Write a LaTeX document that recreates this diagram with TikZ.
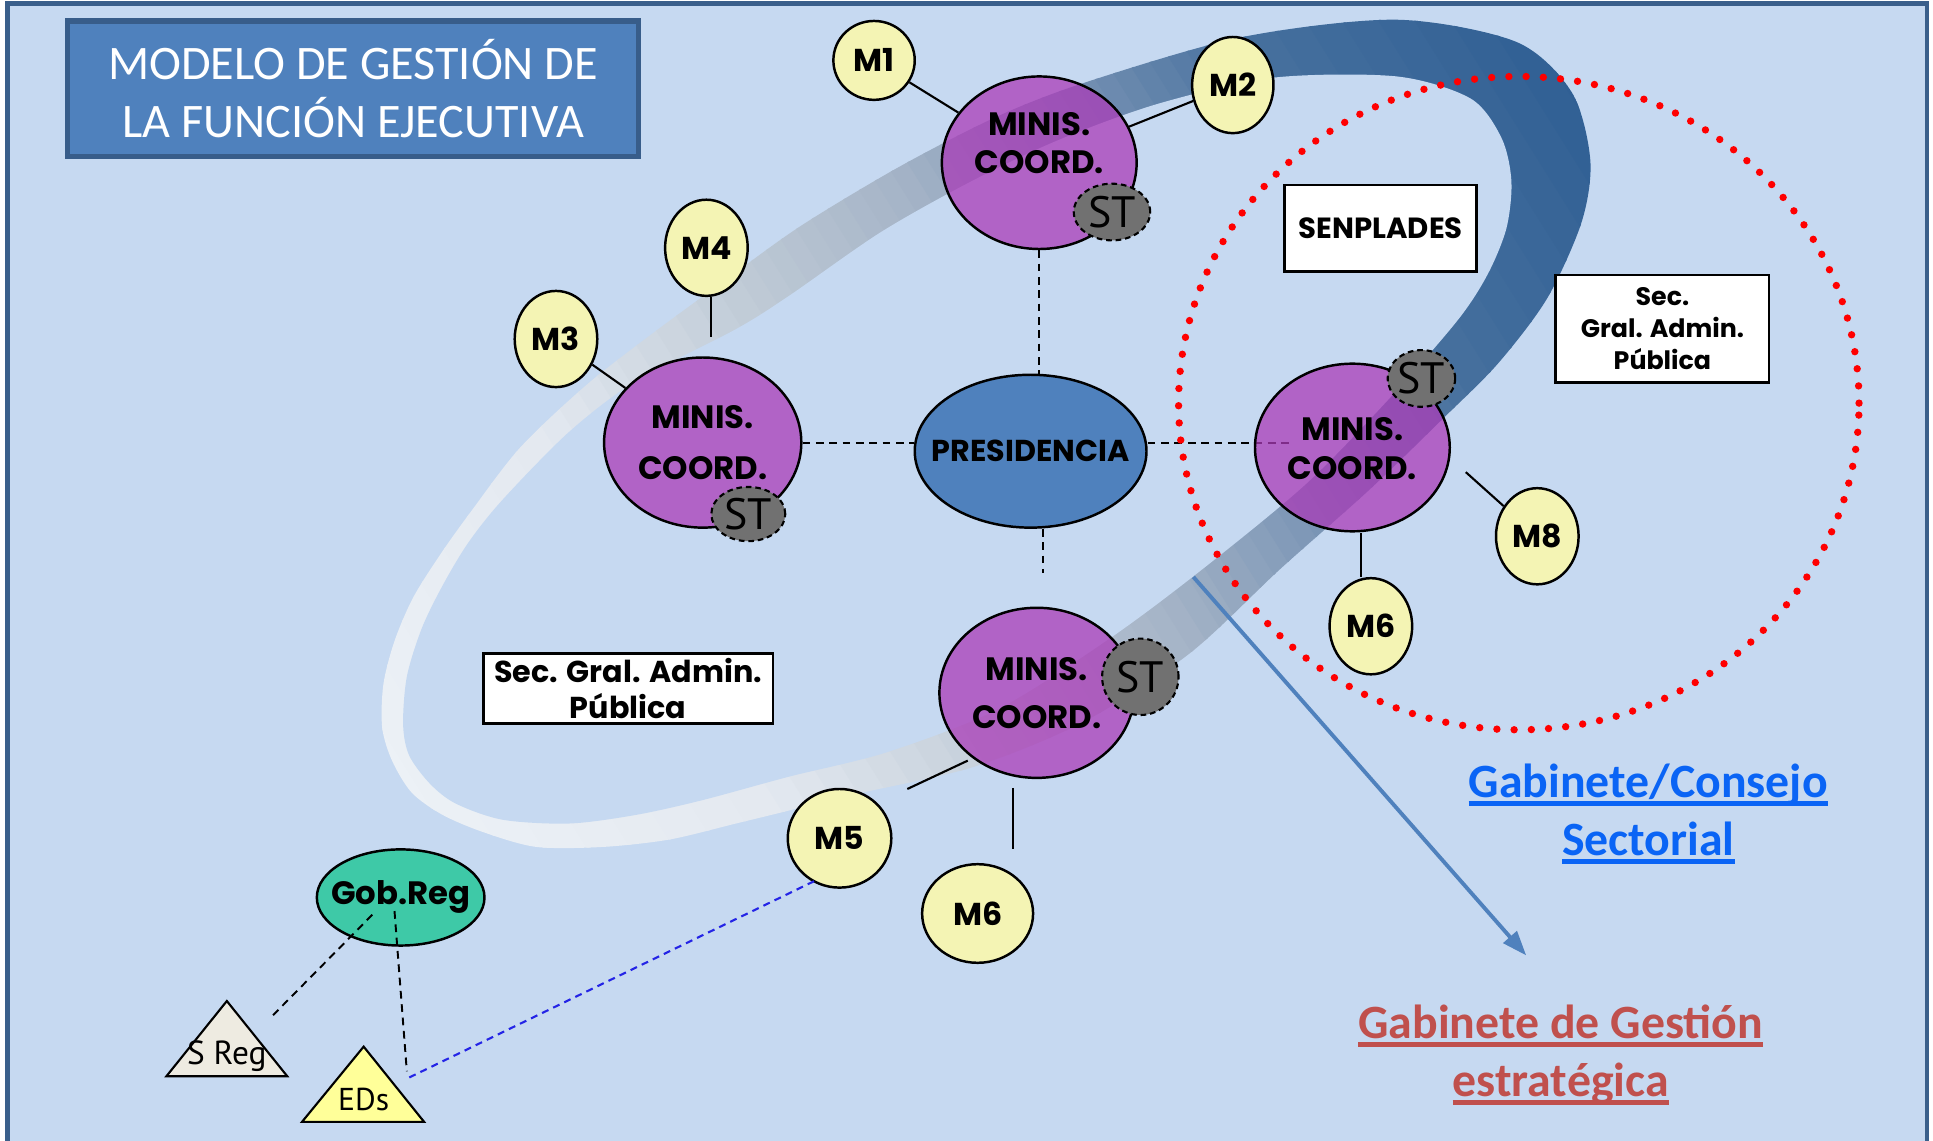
\documentclass[tikz,border=0pt]{standalone}
\usepackage{fontspec}
\setmainfont{Carlito}
\newfontfamily\gothic{Poppins}
\newfontfamily\stfont{PT Sans}
\usetikzlibrary{shapes.geometric,arrows.meta}
\definecolor{bgblue}{HTML}{C6D9F1}
\definecolor{framec}{HTML}{3A5F8B}
\definecolor{titlefill}{HTML}{4F81BD}
\definecolor{titleedge}{HTML}{385D8A}
\definecolor{purp}{HTML}{AA3CB8}
\definecolor{yel}{HTML}{F4F4B4}
\definecolor{stgray}{HTML}{717171}
\definecolor{presfill}{HTML}{4F81BD}
\definecolor{tealfill}{HTML}{3EC9A7}
\definecolor{sregfill}{HTML}{EEEBE1}
\definecolor{edsfill}{HTML}{FFFF99}
\definecolor{gblue}{HTML}{0A64F5}
\definecolor{gred}{HTML}{C0504D}
\definecolor{arrowblue}{HTML}{4F81BD}
\definecolor{dblue}{HTML}{2424E6}
\definecolor{rA}{HTML}{EEF2F7}
\definecolor{rB}{HTML}{E3E9F0}
\definecolor{rC}{HTML}{BFCAD6}
\definecolor{rD}{HTML}{A5B4C7}
\definecolor{rE}{HTML}{7893B4}
\definecolor{rF}{HTML}{46709E}
\definecolor{rG}{HTML}{2C5C92}
\newcommand\myul[1]{\setbox0\hbox{#1}\rlap{\rule[-2.4pt]{\wd0}{1.4pt}}\box0}
\begin{document}
\begin{tikzpicture}[x=0.012328cm, y=-0.012328cm,
  sz/.style 2 args={minimum width=#1*0.70154pt, minimum height=#2*0.70154pt},
  bsz/.style 2 args={minimum width=#1*0.35077pt, minimum height=#2*0.35077pt},
  minis/.style={ellipse, draw=black, line width=0.7pt, fill=purp, fill opacity=0.75, inner sep=0pt},
  minislbl/.style={align=center, inner sep=0pt, font=\gothic\bfseries\fontsize{9.2}{#1}\selectfont},
  mnode/.style={ellipse, draw=black, line width=0.7pt, fill=yel, inner sep=0pt, font=\gothic\bfseries\fontsize{9}{10}\selectfont},
  sttag/.style={ellipse, draw=black, line width=0.6pt, dash pattern=on 1.6pt off 1.1pt, fill=stgray, inner sep=0pt, font=\stfont\fontsize{12.5}{13}\selectfont},
  txtbox/.style={rectangle, draw=black, line width=0.8pt, fill=white, inner sep=0pt, align=center},
  dcon/.style={draw=black, line width=0.55pt, dash pattern=on 2.2pt off 1.6pt},
  scon/.style={draw=black, line width=0.6pt},
]
\useasboundingbox (0,0) rectangle (1568,925);
\fill[white] (0,0) rectangle (1568,925);
% frame
\fill[bgblue] (6,3) rectangle (1563,935);
\draw[framec, line width=1.3pt] (6,935) -- (6,3) -- (1563,3) -- (1563,935);
% title
\node[draw=titleedge, line width=1.5pt, fill=titlefill, bsz={463}{110}, inner sep=0pt,
  text=white, align=center, font=\fontsize{13.7}{16.5}\selectfont] (title) at (286.5,72)
  {MODELO DE GESTIÓN DE\\LA FUNCIÓN EJECUTIVA};
% ring
\begin{scope}
  \clip plot[smooth cycle] coordinates {(690,645) (638,658) (597,668) (543,681) (489,687) (435,687) (392,675) (359,661) (334,643) (318,617) (310,590) (311,555) (320,520) (335,485) (357,450) (382,415) (422,363) (476,312) (530,270) (590,226) (650,183) (730,135) (810,94) (883,66) (1008,30) (1133,16) (1230,34) (1275,75) (1290,130) (1283,180) (1255,242) (1215,295) (1170,340) (1110,398) (1038,462) (965,530) (880,585) (790,622)};
  \begin{scope}[shift={(805,365)}, rotate=32]
    \foreach \ua/\ub/\ca/\cb in {-600/-300/rA/rB, -300/-100/rB/rC, -100/50/rC/rD, 50/200/rD/rE, 200/350/rE/rF, 350/600/rF/rG}{
      \foreach \j in {0,...,9}{
        \pgfmathsetmacro\uu{\ua+((\ub)-(\ua))*\j/10}
        \pgfmathsetmacro\ww{((\ub)-(\ua))/10+2}
        \pgfmathtruncatemacro\pp{95-\j*10}
        \fill[fill=\ca!\pp!\cb] (\uu,-420) rectangle ++(\ww,840);
      }
    }
  \end{scope}
\end{scope}
\fill[bgblue] plot[smooth cycle] coordinates {(720,610) (640,630) (570,649) (516,661) (462,668) (408,665) (370,652) (349,636) (332,613) (327,588) (330,549) (342,510) (359,475) (380,440) (408,405) (462,350) (516,309) (597,267) (640,240) (715,188) (790,146) (860,113) (940,84) (1033,63) (1133,62) (1193,80) (1218,112) (1226,147) (1222,185) (1207,222) (1183,259) (1130,320) (1060,392) (975,462) (900,518) (810,575)};
% presidencia
\node[ellipse, draw=black, line width=0.7pt, fill=presfill, sz={94}{62}, inner sep=0pt] (pres) at (836,366) {};
\node[inner sep=0pt, font=\gothic\bfseries\fontsize{8.6}{10}\selectfont] (prest) at (pres.center) {PRESIDENCIA};
\coordinate (rl) at (1046,359);
\draw[dcon] (pres.east |- rl) -- (rl);
% ministries coordinators
\node[minis, sz={79}{70}] (tmc) at (843,132) {};
\node[minis, sz={80}{69}] (lmc) at (570,359) {};
\node[minis, sz={79}{68}] (rmc) at (1097,363) {};
\node[minis, sz={79}{69}] (bmc) at (841,562) {};
% dashed connectors
\draw[dcon] (tmc.south) -- (tmc.south |- pres.north);
\coordinate (pb) at (846,465);
\draw[dcon] (pres.south -| pb) -- (pb);
\draw[dcon] (lmc.east) -- (lmc.east -| pres.west);
% M nodes
\node[mnode, sz={33}{32}] (M1) at (709,49) {M1};
\node[mnode, sz={33}{39}] (M2) at (1000,69) {M2};
\node[mnode, sz={33.5}{39}] (M3) at (451,275) {M3};
\node[mnode, sz={33.5}{39}] (M4) at (573,201) {M4};
\node[mnode, sz={33.5}{39}] (M8) at (1247,435) {M8};
\node[mnode, sz={33.5}{39}] (M6r) at (1112,508) {M6};
\node[mnode, sz={42}{40}] (M5) at (681,680) {M5};
\node[mnode, sz={45}{40}] (M6b) at (793,741) {M6};
% solid connectors
\draw[scon] (M1) -- (tmc);
\draw[scon] (M2) -- (tmc);
\draw[scon] (M3) -- (lmc);
\coordinate (m4e) at (577,273);
\draw[scon] (M4.south -| m4e) -- (m4e);
\coordinate (m8e) at (1189,383);
\draw[scon] (m8e) -- (M8);
\coordinate (r6) at (1104,432);
\draw[scon] (r6) -- (r6 |- M6r.north);
\coordinate (m5a) at (736,640);
\coordinate (m5b) at (785,617);
\draw[scon] (m5a) -- (m5b);
\coordinate (b6a) at (822,639);
\coordinate (b6b) at (822,689);
\draw[scon] (b6a) -- (b6b);
% ST
\node[sttag, sz={31}{23}] (stT) at (902,172) {ST};
\node[sttag, sz={30}{22}] (stL) at (607,417) {ST};
\node[sttag, sz={25}{23}] (stR) at (1153,307) {ST};
\node[sttag, sz={31}{31}] (stB) at (925,549) {ST};
% MINIS labels
\node[minislbl=10.9] (tmct) at (843,116) {MINIS.\\COORD.};
\node[minislbl=14.4] (lmct) at (570,359) {MINIS.\\COORD.};
\node[minislbl=10.9] (rmct) at (1097,364) {MINIS.\\COORD.};
\node[minislbl=13.7] (bmct) at (841,562) {MINIS.\\COORD.};
% boxes
\node[txtbox, bsz={156}{70}, font=\gothic\bfseries\fontsize{8.3}{10}\selectfont] (senp) at (1120,185) {SENPLADES};
\node[txtbox, bsz={173}{87}, font=\gothic\bfseries\fontsize{7.2}{9}\selectfont] (secR) at (1348.5,266.5) {Sec.\\Gral. Admin.\\Pública};
\node[txtbox, bsz={235}{57}, font=\gothic\bfseries\fontsize{8.6}{10.2}\selectfont] (secL) at (509.5,558.5) {Sec. Gral. Admin.\\Pública};
% regional
\node[ellipse, draw=black, line width=0.7pt, fill=tealfill, sz={68}{39}, inner sep=0pt] (gob) at (325,728) {};
\node[inner sep=0pt, font=\gothic\bfseries\fontsize{9.2}{10}\selectfont] (gobt) at (gob.center) {Gob.Reg};
\filldraw[fill=sregfill, draw=black, line width=0.6pt] (184,812) -- (233,873) -- (135,873) -- cycle;
\node[inner sep=0pt, font=\stfont\fontsize{9.5}{10}\selectfont] (sreg) at (184,857) {S Reg};
\filldraw[fill=edsfill, draw=black, line width=0.6pt] (295,849) -- (344,910) -- (245,910) -- cycle;
\node[inner sep=0pt, font=\stfont\fontsize{9}{10}\selectfont] (eds) at (295,892) {EDs};
\coordinate (g1) at (302,742);
\coordinate (g1e) at (220,825);
\coordinate (g2) at (320,739);
\coordinate (g2e) at (330,869);
\coordinate (bl1) at (332,874);
\coordinate (bl2) at (662,714);
\draw[dcon] (g1) -- (g1e);
\draw[dcon] (g2) -- (g2e);
\draw[dblue, line width=0.6pt, dash pattern=on 2pt off 1.5pt] (bl1) -- (bl2);
% sector circle
\node[ellipse, draw=red, line width=2.1pt, line cap=round, dash pattern=on 0pt off 4.9pt,
  sz={276}{265}, inner sep=0pt] (sect) at (1232,327) {};
% arrow
\coordinate (a1) at (968,468);
\coordinate (a2) at (1238,775);
\draw[arrowblue, line width=1.1pt, -{Triangle[length=7pt, width=5pt]}] (a1) -- (a2);
% labels
\node[font=\bfseries\fontsize{13.6}{16.5}\selectfont, text=gblue, align=center] (gab1) at (1337,660)
  {\myul{Gabinete/Consejo}\\\myul{Sectorial}};
\node[font=\bfseries\fontsize{13.6}{16.5}\selectfont, text=gred, align=center] (gab2) at (1266,856)
  {\myul{Gabinete de Gestión}\\\myul{estratégica}};
\end{tikzpicture}
\end{document}
